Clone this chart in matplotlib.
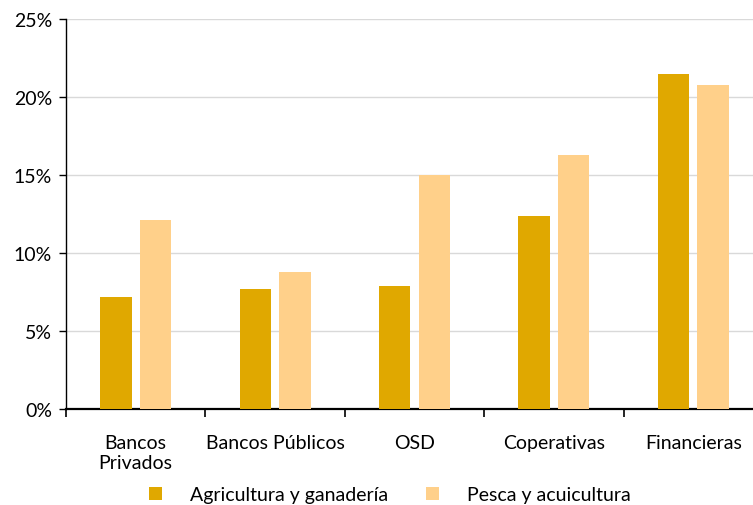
import matplotlib
matplotlib.use("Agg")
import matplotlib.pyplot as plt
import numpy as np
from matplotlib.ticker import FuncFormatter, FixedLocator

categories = ["Bancos\nPrivados", "Bancos Públicos", "OSD", "Coperativas", "Financieras"]
agricultura = [7.2, 7.7, 7.9, 12.4, 21.5]
pesca = [12.1, 8.8, 15.0, 16.3, 20.8]
series_names = ["Agricultura y ganadería", "Pesca y acuicultura"]

DARK = "#E0A800"
LIGHT = "#FFD08A"

plt.rcParams["font.family"] = ["Lato", "DejaVu Sans"]

fig = plt.figure(figsize=(7.53, 5.06), dpi=100)
W, H = 753, 506
left, right, top, bottom = 66, 763, 20, 410
ax = fig.add_axes([left / W, 1 - bottom / H, (right - left) / W, (bottom - top) / H])

x = np.arange(len(categories))
width = 0.225
ax.bar(x - 0.142, agricultura, width, color=DARK, label=series_names[0], zorder=3)
ax.bar(x + 0.142, pesca, width, color=LIGHT, label=series_names[1], zorder=3)

ax.set_xlim(-0.5, len(categories) - 0.5)
ax.set_ylim(0, 25)
ax.set_yticks(np.arange(0, 26, 5))
ax.yaxis.set_major_formatter(FuncFormatter(lambda v, _: f"{v:.0f}%"))
ax.grid(axis="y", color="#D9D9D9", linewidth=1.0, zorder=0)

ax.set_xticks(x)
ax.set_xticklabels(categories, fontsize=14, linespacing=1.2, va="top")
ax.xaxis.set_minor_locator(FixedLocator(np.arange(-0.5, len(categories), 1.0)))
ax.tick_params(axis="x", which="major", length=0, pad=18)
ax.tick_params(axis="x", which="minor", length=6, width=1.2, color="black")
ax.tick_params(axis="y", length=5, width=1.0, labelsize=14, pad=5)

for side in ["top", "right"]:
    ax.spines[side].set_visible(False)
ax.spines["left"].set_linewidth(1.0)
ax.spines["bottom"].set_linewidth(1.6)

ax.legend(loc="center", bbox_to_anchor=(390 / W, 1 - 496 / H), bbox_transform=fig.transFigure,
          ncol=2, frameon=False, fontsize=14, handlelength=0.65, handleheight=0.65,
          columnspacing=1.95, handletextpad=1.45)

fig.savefig("out.png", dpi=100)
